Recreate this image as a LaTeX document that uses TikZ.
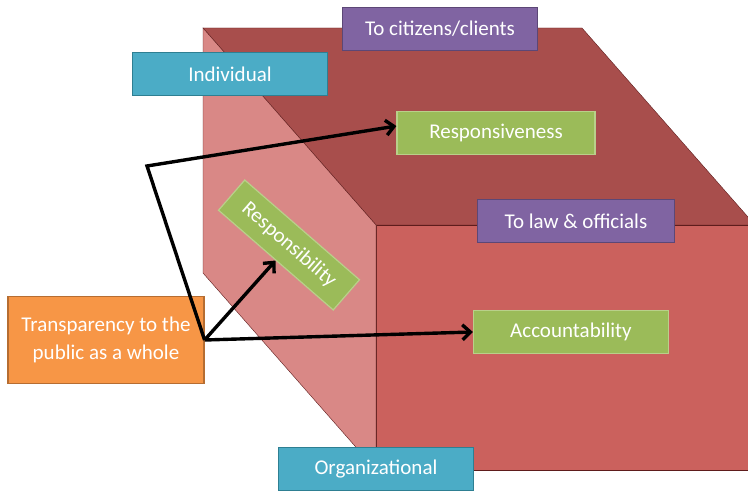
\documentclass[tikz,border=0pt]{standalone}
\usepackage{fontspec}
\setmainfont{Carlito}
\usetikzlibrary{arrows.meta}
\definecolor{topface}{HTML}{A84E4C}
\definecolor{frontface}{HTML}{CB615D}
\definecolor{sideface}{HTML}{D98886}
\definecolor{cubeedge}{HTML}{5E1C1C}
\definecolor{cyanfill}{HTML}{4BACC6}
\definecolor{cyanline}{HTML}{2E7F92}
\definecolor{purplefill}{HTML}{8064A2}
\definecolor{purpleline}{HTML}{5C4776}
\definecolor{greenfill}{HTML}{9BBB59}
\definecolor{greenline}{HTML}{B9D08A}
\definecolor{orangefill}{HTML}{F79646}
\definecolor{orangeline}{HTML}{B66D31}

\begin{document}
\begin{tikzpicture}[x=1pt,y=-1pt,>={Straight Barb[length=8pt,width=15pt]},
    box/.style={draw,line width=1.2pt,minimum height=43pt,minimum width=196pt,%
      inner sep=2pt,text=white,font=\fontsize{21}{28}\selectfont},
    cyanbox/.style={box,fill=cyanfill,draw=cyanline},
    purplebox/.style={box,fill=purplefill,draw=purpleline},
    greenbox/.style={box,fill=greenfill,draw=greenline},
    orangebox/.style={box,fill=orangefill,draw=orangeline,align=center},
    arrow/.style={->,line width=3.4pt,line join=miter}]
      \useasboundingbox (0,0) rectangle (748,492) ;
      \begin{scope}
        \clip (0,0) rectangle (748,492) ;
        \filldraw[fill=topface,draw=cubeedge] (203,28) -- (582,28) -- (755,225) -- (376,225) -- cycle ;
        \filldraw[fill=frontface,draw=cubeedge] (376,225) rectangle (755,470) ;
        \filldraw[fill=sideface,draw=cubeedge] (203,28) -- (376,225) -- (376,470) -- (203,273) -- cycle ;
      \end{scope}
      \node[purplebox,minimum width=195pt] (citiz) at (440,29) {To citizens/clients} ;
      \node[cyanbox,minimum width=195pt] (indiv) at (230,74) {Individual} ;
      \node[greenbox,minimum width=198pt] (respv) at (496,133) {Responsiveness} ;
      \node[purplebox,minimum width=197pt] (law) at (576,221) {To law \& officials} ;
      \node[greenbox,minimum width=195pt] (acct) at (571,332) {Accountability} ;
      \node[cyanbox,minimum width=195pt] (org) at (376,469) {Organizational} ;
      \node[greenbox,rotate=-41,minimum width=152pt,minimum height=40pt] %
      (respb) at (289,245) {Responsibility} ;
      \node[orangebox,minimum height=87pt] (transp) at (106,340) {Transparency to the\\public as a whole} ;
      \coordinate (bend) at (147,166) ;
      \draw[arrow] (transp.east) -- (bend) -- (respv.176) ;
      \draw[arrow] (transp.east) -- (respb.south) ;
      \draw[arrow] (transp.east) -- (acct.west) ;
    \end{tikzpicture}
\end{document}
